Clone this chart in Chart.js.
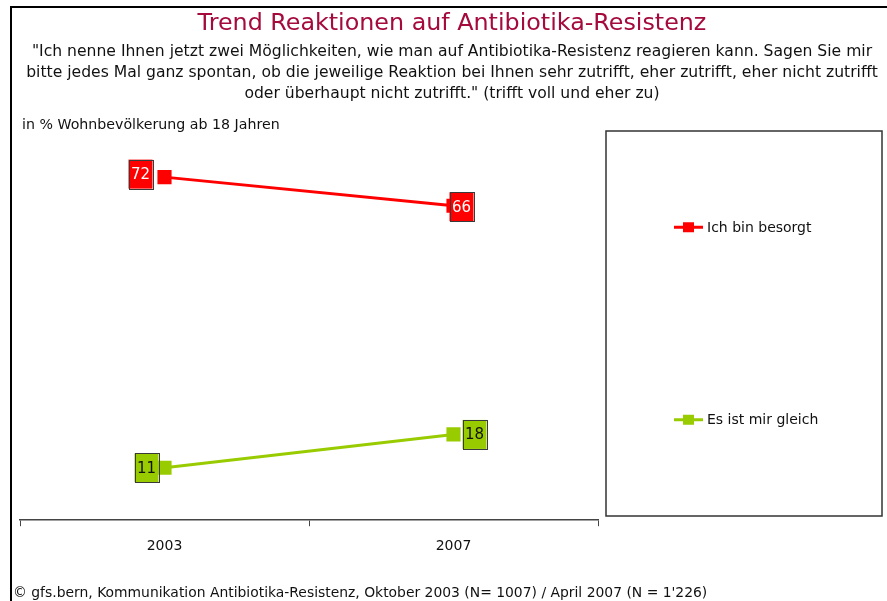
<!DOCTYPE html>
<html>
<head>
<meta charset="utf-8">
<script src="https://cdn.jsdelivr.net/npm/chart.js@4.4.1/dist/chart.umd.min.js"></script>
<style>
  body { margin: 0; background: #fff; font-family: "DejaVu Sans", sans-serif; }
  #page { position: relative; width: 887px; height: 601px; overflow: hidden; }
  #frame { position: absolute; left: 10px; top: 6px; width: 900px; height: 700px;
           border-left: 2px solid #000; border-top: 2px solid #000; }
  #title { position: absolute; left: 12px; width: 880px; top: 8px; text-align: center;
           color: #a50a3c; font-size: 23.8px; line-height: 28px; }
  #question { position: absolute; left: 12px; width: 880px; top: 41px; text-align: center;
              font-size: 15.6px; line-height: 21px; color: #111; white-space: nowrap; }
  #unit { position: absolute; left: 22px; top: 116px; font-size: 14.2px; line-height: 17px; color: #111; }
  #source { position: absolute; left: 13px; top: 584px; font-size: 13.9px; line-height: 17px; color: #111; }
  canvas { position: absolute; left: 0; top: 0; }
</style>
</head>
<body>
<div id="page">
  <div id="frame"></div>
  <canvas id="chart" width="887" height="601"></canvas>
  <div id="title">Trend Reaktionen auf Antibiotika-Resistenz</div>
  <div id="question">"Ich nenne Ihnen jetzt zwei Möglichkeiten, wie man auf Antibiotika-Resistenz reagieren kann. Sagen Sie mir<br>bitte jedes Mal ganz spontan, ob die jeweilige Reaktion bei Ihnen sehr zutrifft, eher zutrifft, eher nicht zutrifft<br>oder überhaupt nicht zutrifft." (trifft voll und eher zu)</div>
  <div id="unit">in % Wohnbevölkerung ab 18 Jahren</div>
  <div id="source">© gfs.bern, Kommunikation Antibiotika-Resistenz, Oktober 2003 (N= 1007) / April 2007 (N = 1'226)</div>
</div>
<script>
const years = ["2003", "2007"];
const seriesNames = ["Ich bin besorgt", "Es ist mir gleich"];
const besorgt = [72, 66];
const gleich = [11, 18];

const colors = ["#ff0000", "#99cc00"];
const labelTextColors = ["#ffffff", "#111111"];
// where each value box sits relative to its point (px)
const labelOffsets = [
  [[-24, -3], [8, 1]],
  [[-18, 0], [21, 0]]
];

// value boxes next to the points
const valueBoxes = {
  id: "valueBoxes",
  afterDatasetsDraw(chart) {
    const ctx = chart.ctx;
    ctx.save();
    ctx.font = "15px 'DejaVu Sans'";
    ctx.textAlign = "center";
    ctx.textBaseline = "middle";
    chart.data.datasets.forEach((ds, i) => {
      chart.getDatasetMeta(i).data.forEach((pt, j) => {
        const [dx, dy] = labelOffsets[i][j];
        const cx = pt.x + dx, cy = pt.y + dy;
        const w = 24, h = 29;
        ctx.fillStyle = colors[i];
        ctx.fillRect(cx - w / 2, cy - h / 2, w, h);
        ctx.strokeStyle = "#3a3a3a";
        ctx.lineWidth = 1;
        ctx.strokeRect(Math.round(cx - w / 2) + 0.5, Math.round(cy - h / 2) + 0.5, w, h);
        ctx.fillStyle = labelTextColors[i];
        ctx.fillText(String(ds.data[j]), cx, cy + 1);
      });
    });
    ctx.restore();
  }
};

// boxed legend on the right
const boxLegend = {
  id: "boxLegend",
  afterDraw(chart) {
    const ctx = chart.ctx;
    const x0 = 606, y0 = 131, x1 = 882, y1 = 516;
    ctx.save();
    ctx.strokeStyle = "#333";
    ctx.lineWidth = 1.5;
    ctx.strokeRect(x0, y0, x1 - x0, y1 - y0);
    ctx.font = "14px 'DejaVu Sans'";
    ctx.textBaseline = "middle";
    ctx.textAlign = "left";
    const n = chart.data.datasets.length;
    chart.data.datasets.forEach((ds, i) => {
      const y = y0 + (y1 - y0) * (2 * i + 1) / (2 * n);
      ctx.strokeStyle = ds.borderColor;
      ctx.lineWidth = 3;
      ctx.beginPath();
      ctx.moveTo(674, y);
      ctx.lineTo(703, y);
      ctx.stroke();
      ctx.fillStyle = ds.borderColor;
      ctx.fillRect(683, y - 5, 11, 10);
      ctx.fillStyle = "#111";
      ctx.fillText(ds.label, 707, y + 1);
    });
    ctx.restore();
  }
};

new Chart(document.getElementById("chart"), {
  type: "line",
  data: {
    labels: years,
    datasets: [besorgt, gleich].map((vals, i) => ({
      label: seriesNames[i],
      data: vals,
      borderColor: colors[i],
      backgroundColor: colors[i],
      borderWidth: 3,
      pointStyle: "rect",
      pointRadius: 10,
      pointBorderWidth: 0,
      tension: 0
    }))
  },
  options: {
    responsive: false,
    animation: false,
    layout: { padding: { left: 20, right: 289, top: 139, bottom: 34 } },
    plugins: { legend: { display: false }, tooltip: { enabled: false } },
    scales: {
      x: {
        offset: true,
        grid: { offset: true, drawOnChartArea: false, tickLength: 6, color: "#444", lineWidth: 1 },
        border: { display: true, color: "#444", width: 1.5 },
        ticks: { padding: 12, color: "#111", font: { family: "DejaVu Sans", size: 14 } }
      },
      y: { display: false, min: 0, max: 80 }
    }
  },
  plugins: [valueBoxes, boxLegend]
});
</script>
</body>
</html>
